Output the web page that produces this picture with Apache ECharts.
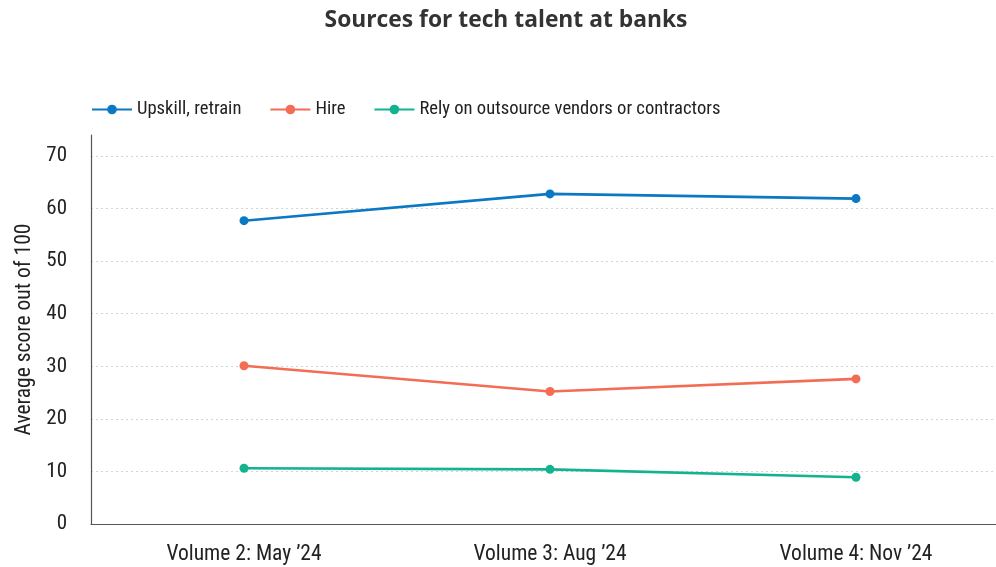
<!DOCTYPE html>
<html>
<head>
<meta charset="utf-8">
<script src="https://cdn.jsdelivr.net/npm/echarts@6/dist/echarts.min.js"></script>
<style>
  html, body { margin: 0; padding: 0; background: #fff; }
  #chart { width: 996px; height: 567px; }
</style>
</head>
<body>
<div id="chart"></div>
<script>
// Survey waves on the x axis
const categories = ["Volume 2: May \u201924", "Volume 3: Aug \u201924", "Volume 4: Nov \u201924"];

// Average scores (out of 100) per talent source
const upskillRetrain = [57.7, 62.8, 61.9];
const hire = [30.1, 25.2, 27.6];
const outsource = [10.6, 10.4, 8.9];

const seriesNames = ["Upskill, retrain", "Hire", "Rely on outsource vendors or contractors"];
const seriesColors = ["#0b78c4", "#f36d54", "#13b38f"];

// Value axis: labelled every 10 up to 70, axis line runs a little higher
const yMin = 0;
const yLabelMax = 70;
const yAxisTop = 74;
const yInterval = 10;

const font = '"Liberation Sans Narrow", "Roboto Condensed", "Arial Narrow", sans-serif';

const chart = echarts.init(document.getElementById("chart"), null, { renderer: "canvas" });

const mkSeries = (name, data, color) => ({
  name: name,
  type: "line",
  data: data,
  symbol: "circle",
  symbolSize: 9,
  lineStyle: { color: color, width: 2.6 },
  itemStyle: { color: color },
  z: 3
});

// one grey dotted line per labelled tick, none at the axis top
const splitColors = [];
for (let v = yMin; v <= yLabelMax; v += yInterval) splitColors.push("#d4d4d4");
splitColors.push("rgba(0,0,0,0)");

chart.setOption({
  animation: false,
  backgroundColor: "#fff",
  title: {
    text: "Sources for tech talent at banks",
    left: 501,
    textAlign: "center",
    top: 4,
    textStyle: { fontFamily: '"Open Sans", sans-serif', fontWeight: "bold", fontSize: 22.8, color: "#333" }
  },
  legend: {
    left: 86,
    top: 95,
    itemWidth: 40,
    itemHeight: 12,
    itemGap: 28,
    textStyle: { fontFamily: font, fontSize: 18.6, color: "#222" },
    data: seriesNames
  },
  grid: { left: 91, top: 135, width: 918, height: 389, outerBoundsMode: "none", containLabel: false },
  xAxis: {
    type: "category",
    data: categories,
    boundaryGap: true,
    axisLine: { lineStyle: { color: "#555", width: 1.2 } },
    axisTick: { show: false },
    axisLabel: { fontFamily: font, fontSize: 21.5, color: "#222", margin: 20 }
  },
  yAxis: {
    type: "value",
    min: yMin,
    max: yAxisTop,
    interval: yInterval,
    name: "Average score out of 100",
    nameLocation: "middle",
    nameGap: 55,
    nameTextStyle: { fontFamily: font, fontSize: 21.5, color: "#222" },
    axisLine: { show: true, lineStyle: { color: "#555", width: 1.2 } },
    axisTick: { show: false },
    axisLabel: {
      fontFamily: font, fontSize: 21, color: "#222", margin: 24,
      showMaxLabel: false,
      formatter: v => (v <= yLabelMax ? String(v) : "")
    },
    splitLine: { show: true, lineStyle: { color: splitColors, type: [2, 3], width: 1 } }
  },
  series: [
    mkSeries(seriesNames[0], upskillRetrain, seriesColors[0]),
    mkSeries(seriesNames[1], hire, seriesColors[1]),
    mkSeries(seriesNames[2], outsource, seriesColors[2])
  ]
});
</script>
</body>
</html>
